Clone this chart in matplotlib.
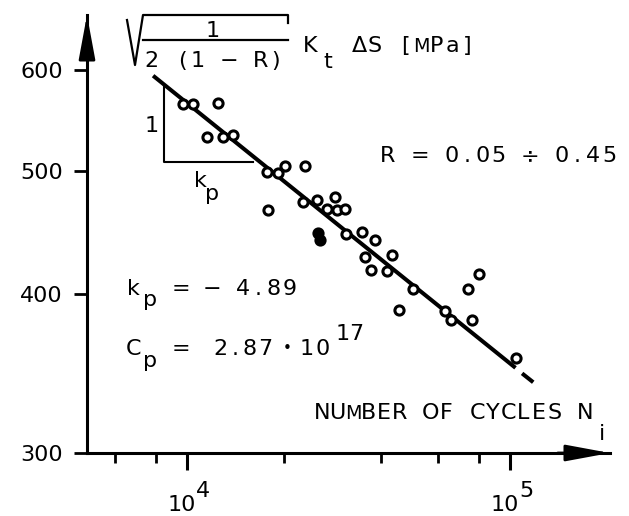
import matplotlib
matplotlib.use('Agg')
import matplotlib.pyplot as plt
from matplotlib import ticker
from matplotlib.lines import Line2D

# fatigue test results: cycles to failure, equivalent stress [MPa]
cycles = [9700, 10400, 12500, 11500, 12900, 13900, 17700, 19100, 20100, 23200,
          17800, 22900, 25300, 28700, 27100, 29100, 30800, 31100, 34800, 38200,
          35600, 43100, 37100, 41600, 50100, 45300, 62900, 65700, 76300, 74100,
          80200, 104400]
stress = [564, 564, 565, 532, 532, 534, 499, 498, 504, 504,
          466, 473, 474, 477, 467, 466, 467, 446, 448, 441,
          428, 429, 418, 417, 404, 389, 388, 382, 382, 404,
          415, 356]
# two overlapping results that print as one solid blob
blob_cycles = [25400, 25800]
blob_stress = [447, 441]

# fitted line k_p = -4.89, C_p = 2.87e17 (solid part + short dashed extension)
fit_cycles = [7850, 104000]
fit_stress = [594, 350]
ext_cycles = [109000, 118000]
ext_stress = [346.5, 341]

# slope triangle
tri_cycles = [8500, 8500, 16000]
tri_stress = [584, 508, 508]

x_major = [1e4, 1e5]
x_exp = ['4', '5']
x_minor = [6e3, 8e3, 2e4, 4e4, 6e4, 8e4]
y_ticks = [300, 400, 500, 600]
y_labels = ['300', '400', '500', '600']

plt.rcParams['font.family'] = ['DejaVu Sans']

W, H = 629, 516
fig = plt.figure(figsize=(W / 100, H / 100), dpi=100)
ax = fig.add_axes([87 / W, 1 - 453 / H, (610 - 87) / W, (453 - 15) / H])
ax.set_xscale('log')
ax.set_yscale('log')
ax.set_xlim(4900, 204000)
ax.set_ylim(300, 663)

ax.plot(fit_cycles, fit_stress, color='black', lw=2.9, solid_capstyle='butt', zorder=2)
ax.plot(ext_cycles, ext_stress, color='black', lw=2.9, solid_capstyle='butt', zorder=2)
ax.plot(tri_cycles, tri_stress, color='black', lw=1.5, zorder=2)
ax.plot(cycles, stress, 'o', ms=6.6, mew=2.2, mec='black', mfc='white', zorder=3)
ax.plot(blob_cycles, blob_stress, 'o', ms=6.6, mew=2.2, mec='black', mfc='black', zorder=3)

for side in ['top', 'right']:
    ax.spines[side].set_visible(False)
for side in ['left', 'bottom']:
    ax.spines[side].set_linewidth(2.2)

arrow = dict(arrowstyle='-|>,head_length=2.7,head_width=0.5', mutation_scale=10,
             color='black', lw=2.0, shrinkA=0, shrinkB=0)
ax.annotate('', xy=(1, 0), xytext=(0.9, 0), xycoords='axes fraction', arrowprops=arrow)
ax.annotate('', xy=(0, 1), xytext=(0, 0.9), xycoords='axes fraction', arrowprops=arrow)

ax.xaxis.set_major_locator(ticker.FixedLocator(x_major))
ax.xaxis.set_minor_locator(ticker.FixedLocator(x_minor))
ax.xaxis.set_major_formatter(ticker.NullFormatter())
ax.xaxis.set_minor_formatter(ticker.NullFormatter())
ax.tick_params(axis='x', which='major', direction='out', length=12, width=2.2)
ax.tick_params(axis='x', which='minor', direction='out', length=7, width=2.0)

ax.yaxis.set_major_locator(ticker.FixedLocator(y_ticks))
ax.yaxis.set_minor_locator(ticker.NullLocator())
ax.yaxis.set_major_formatter(ticker.FixedFormatter(y_labels))
ax.tick_params(axis='y', direction='out', length=9.5, width=2.0, pad=8, labelsize=16)

# powers of ten under the x ticks
for t, e in zip(x_major, x_exp):
    ax.annotate('10', xy=(t, 0), xycoords=ax.get_xaxis_transform(), xytext=(-5, -58),
                textcoords='offset pixels', ha='center', va='baseline', fontsize=16)
    ax.annotate(e, xy=(t, 0), xycoords=ax.get_xaxis_transform(), xytext=(16, -44),
                textcoords='offset pixels', ha='center', va='baseline', fontsize=16)


def spaced(s, x, y, pitch=15.5, size=16):
    # lettering-stencil look: every character on a fixed pitch (pixel positions)
    for i, ch in enumerate(s):
        if ch == ' ':
            continue
        fs = size * 0.86 if ch in 'MW' else size
        fig.text((x + i * pitch) / W, 1 - y / H, ch, ha='center', va='baseline', fontsize=fs)


def line_px(xs, ys, lw=1.6):
    fig.add_artist(Line2D([x / W for x in xs], [1 - y / H for y in ys],
                          transform=fig.transFigure, color='black', lw=lw))


# y axis title: sqrt(1 / (2 (1 - R))) K_t dS [MPa]
line_px([127, 135, 143, 288, 288], [20, 65, 15, 15, 23])
line_px([143, 288], [40, 40])
spaced('1', 213, 37)
spaced('2 (1 − R)', 151, 67, pitch=15.6)
spaced('K', 310, 52)
spaced('t', 328, 68)
spaced('ΔS [MPa]', 359, 52)

spaced('R = 0.05 ÷ 0.45', 388, 162, pitch=15.8)
spaced('NUMBER OF CYCLES N', 322, 419)
spaced('i', 602, 440)

# slope triangle labels
spaced('1', 152, 132)
spaced('k', 200, 187)
spaced('p', 212, 200)

# fit parameters
spaced('k', 133.5, 295)
spaced('p', 150, 306)
spaced('= − 4.89', 181, 295)
spaced('C', 133.5, 355)
spaced('p', 150, 367)
spaced('=', 181, 355)
spaced('2.87', 220, 355, pitch=15)
spaced('•', 287, 353, size=11)
spaced('10', 307, 355)
spaced('17', 343, 340, pitch=13)

fig.savefig('out.png', dpi=100)
